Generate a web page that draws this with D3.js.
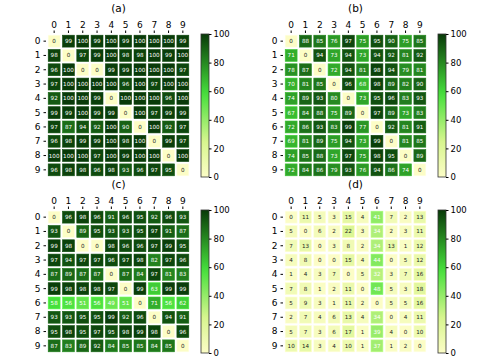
<!DOCTYPE html>
<html>
<head>
<meta charset="utf-8">
<script src="https://cdn.jsdelivr.net/npm/d3@7"></script>
<style>
  body { margin: 0; background: #fff; }
  text { font-family: "DejaVu Sans", sans-serif; fill: #000; }
</style>
</head>
<body>
<div id="chart"></div>
<script>
// Matrix labels and the four panels' values (rows 0..9, columns 0..9).
const labels = ["0", "1", "2", "3", "4", "5", "6", "7", "8", "9"];
const titles = ["(a)", "(b)", "(c)", "(d)"];
const colorTicks = [0, 20, 40, 60, 80, 100];

const valuesA = [
  [0, 99, 100, 99, 100, 99, 100, 100, 100, 99],
  [98, 0, 97, 99, 100, 98, 98, 100, 99, 100],
  [96, 100, 0, 0, 99, 99, 100, 100, 100, 97],
  [97, 100, 100, 100, 100, 96, 100, 97, 100, 100],
  [92, 100, 100, 99, 0, 100, 100, 100, 96, 100],
  [99, 99, 100, 99, 99, 0, 100, 97, 99, 99],
  [97, 87, 94, 92, 100, 90, 0, 100, 92, 97],
  [96, 98, 99, 99, 100, 98, 100, 0, 99, 97],
  [100, 100, 100, 97, 100, 99, 100, 100, 0, 100],
  [96, 98, 98, 96, 98, 93, 96, 97, 95, 0]
];
const valuesB = [
  [0, 88, 85, 76, 97, 75, 95, 90, 75, 85],
  [71, 0, 94, 73, 94, 73, 94, 92, 81, 92],
  [78, 87, 0, 72, 94, 81, 98, 94, 79, 81],
  [70, 81, 85, 0, 96, 68, 98, 89, 82, 90],
  [74, 89, 93, 80, 0, 73, 95, 96, 83, 93],
  [67, 84, 88, 75, 89, 0, 97, 89, 73, 83],
  [72, 86, 93, 83, 99, 77, 0, 92, 81, 91],
  [69, 81, 89, 75, 94, 73, 99, 0, 81, 85],
  [74, 85, 88, 73, 97, 75, 98, 95, 0, 89],
  [72, 84, 86, 79, 93, 76, 94, 86, 74, 0]
];
const valuesC = [
  [0, 96, 98, 96, 91, 96, 95, 92, 96, 93],
  [93, 0, 89, 95, 93, 93, 95, 97, 91, 87],
  [99, 98, 0, 0, 98, 96, 96, 97, 99, 95],
  [97, 94, 97, 97, 96, 97, 98, 82, 97, 96],
  [87, 89, 87, 87, 0, 87, 84, 97, 81, 83],
  [99, 98, 98, 98, 97, 0, 99, 63, 99, 99],
  [58, 56, 51, 56, 49, 51, 0, 71, 56, 62],
  [93, 93, 95, 95, 99, 92, 96, 0, 94, 91],
  [95, 98, 95, 97, 95, 98, 99, 98, 0, 96],
  [87, 83, 89, 92, 84, 85, 85, 84, 85, 0]
];
const valuesD = [
  [0, 11, 5, 3, 15, 4, 41, 7, 2, 13],
  [5, 0, 6, 2, 22, 3, 34, 2, 3, 11],
  [7, 13, 0, 3, 8, 2, 34, 13, 1, 12],
  [4, 8, 0, 0, 15, 4, 44, 0, 5, 12],
  [1, 4, 3, 7, 0, 5, 32, 3, 7, 16],
  [7, 8, 1, 2, 11, 0, 48, 5, 3, 18],
  [5, 9, 3, 1, 11, 2, 0, 5, 5, 16],
  [2, 7, 4, 6, 13, 4, 34, 0, 4, 11],
  [5, 7, 3, 6, 17, 1, 39, 4, 0, 10],
  [10, 14, 3, 4, 10, 1, 37, 1, 2, 0]
];

const panels = [valuesA, valuesB, valuesC, valuesD];

const W = 485, H = 363;
const gridLeft = 47, gridTop = 34, gridSize = 143;
const barLeft = 201, barWidth = 8;
const offsets = [[0, 0], [237, 0], [0, 176], [237, 176]];

// yellow -> bright green -> dark green
const color = d3.scaleLinear()
  .domain([0, 25, 58, 100])
  .range(["#fcfdc6", "#d6f58e", "#46e03c", "#093a09"])
  .interpolate(d3.interpolateRgb);

const svg = d3.select("#chart").append("svg")
  .attr("width", W).attr("height", H);

const defs = svg.append("defs");
const grad = defs.append("linearGradient")
  .attr("id", "cbar").attr("x1", 0).attr("y1", 1).attr("x2", 0).attr("y2", 0);
d3.range(0, 101, 5).forEach(v => {
  grad.append("stop").attr("offset", v / 100).attr("stop-color", color(v));
});

panels.forEach((values, p) => {
  const [ox, oy] = offsets[p];
  const g = svg.append("g").attr("transform", `translate(${ox},${oy})`);

  const x = d3.scaleBand().domain(labels).range([gridLeft, gridLeft + gridSize]);
  const y = d3.scaleBand().domain(labels).range([gridTop, gridTop + gridSize]);

  g.append("text")
    .attr("x", gridLeft + gridSize / 2).attr("y", 12)
    .attr("text-anchor", "middle").style("font-size", "10.5px")
    .text(titles[p]);

  const cells = [];
  values.forEach((row, i) => row.forEach((v, j) => cells.push({ r: labels[i], c: labels[j], v })));

  g.selectAll("rect.cell").data(cells).enter().append("rect")
    .attr("class", "cell")
    .attr("x", d => x(d.c) + 1.2)
    .attr("y", d => y(d.r) + 1.2)
    .attr("width", x.bandwidth() - 2.4)
    .attr("height", y.bandwidth() - 2.4)
    .attr("fill", d => color(d.v))
    .attr("stroke", d => d3.color(color(d.v)).brighter(0.4))
    .attr("stroke-width", 0.6);

  g.selectAll("text.ann").data(cells).enter().append("text")
    .attr("class", "ann")
    .attr("x", d => x(d.c) + x.bandwidth() / 2)
    .attr("y", d => y(d.r) + y.bandwidth() / 2 + 2)
    .attr("text-anchor", "middle")
    .style("font-size", "5.6px")
    .style("fill", d => d.v >= 30 ? "#fff" : "#222")
    .text(d => d.v);

  // top axis
  const top = g.append("g").attr("transform", `translate(0,${gridTop - 1})`)
    .call(d3.axisTop(x).tickSize(2.5).tickPadding(3));
  top.select(".domain").remove();
  top.selectAll("text").style("font-size", "9px");

  // left axis
  const left = g.append("g").attr("transform", `translate(${gridLeft - 1},0)`)
    .call(d3.axisLeft(y).tickSize(2.5).tickPadding(3));
  left.select(".domain").remove();
  left.selectAll("text").style("font-size", "9px");

  // colorbar
  const cb = d3.scaleLinear().domain([0, 100]).range([gridTop + gridSize, gridTop]);
  g.append("rect")
    .attr("x", barLeft).attr("y", gridTop)
    .attr("width", barWidth).attr("height", gridSize)
    .attr("fill", "url(#cbar)")
    .attr("stroke", "#333").attr("stroke-width", 0.8);
  const cax = g.append("g").attr("transform", `translate(${barLeft + barWidth},0)`)
    .call(d3.axisRight(cb).tickValues(colorTicks).tickSize(2.5).tickPadding(2));
  cax.select(".domain").remove();
  cax.selectAll("text").style("font-size", "8.5px");
});
</script>
</body>
</html>
